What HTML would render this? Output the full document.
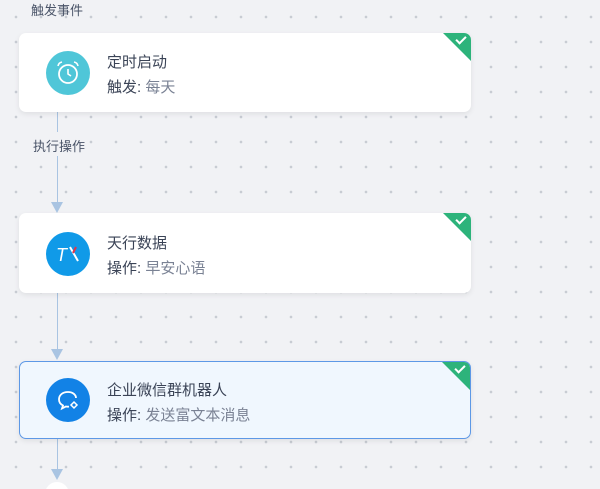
<!DOCTYPE html>
<html><head><meta charset="utf-8"><style>
html{height:489px;overflow:hidden}
body{margin:0;width:600px;height:489px;overflow:hidden;background-color:#f1f2f5;
background-image:radial-gradient(circle,#c8ccd3 1.2px,transparent 1.5px);background-size:25px 25px;background-position:3.5px 4.5px;
font-family:"Liberation Sans","Noto Sans CJK SC",sans-serif;position:relative}
.lbl{position:absolute;font-size:13px;color:#4a5468}
.card{position:absolute;left:19px;width:452px;height:79px;background:#fff;border-radius:7px;box-shadow:0 2px 6px rgba(0,0,0,.08);overflow:hidden;box-sizing:border-box}
.ic{position:absolute;left:27px;top:18px;width:44px;height:44px;border-radius:50%}
.t{position:absolute;left:88px;top:18px;font-size:15px;color:#3a4356}
.s{position:absolute;left:88px;top:43px;font-size:15px;color:#3a4356}
.s span{color:#7a8294}
.tri{position:absolute;right:0;top:0;width:0;height:0;border-top:28px solid #2db37b;border-left:28px solid transparent}
.tri:after{content:"";position:absolute;left:-15px;top:-25px;width:8px;height:4px;border-left:2px solid #fff;border-bottom:2px solid #fff;transform:rotate(-45deg)}
.ln{position:absolute;left:57px;width:1px;background:#a9c4e2}
.ar{position:absolute;left:51px;width:0;height:0;border-left:6.5px solid transparent;border-right:6.5px solid transparent;border-top:11px solid #a9c4e2}
</style></head><body>
<div class="lbl" style="left:31px;top:0px">触发事件</div>
<div class="lbl" style="left:33px;top:136px">执行操作</div>
<div class="ln" style="top:112px;height:20px"></div>
<div class="ln" style="top:156px;height:50px"></div><div class="ar" style="top:202px"></div>
<div class="ln" style="top:293px;height:62px"></div><div class="ar" style="top:349px"></div>
<div class="ln" style="top:439px;height:34px"></div><div class="ar" style="top:469px"></div>
<div style="position:absolute;left:45px;top:482px;width:24px;height:24px;border-radius:50%;background:#fff"></div>

<div class="card" style="top:33px">
<div class="ic" style="background:#4fc6d8">
<svg width="44" height="44" viewBox="0 0 44 44"><circle cx="22" cy="23" r="9" fill="none" stroke="#fff" stroke-width="1.8"/><path d="M22 18v5l3 2" fill="none" stroke="#fff" stroke-width="1.6"/><path d="M12 15a5 5 0 0 1 4-4M32 15a5 5 0 0 0-4-4" fill="none" stroke="#fff" stroke-width="1.6"/></svg></div>
<div class="t">定时启动</div><div class="s">触发: <span>每天</span></div><div class="tri"></div></div>

<div class="card" style="top:213px;height:80px">
<div class="ic" style="background:#109ae8;top:19px">
<svg width="44" height="44" viewBox="0 0 44 44"><text x="10" y="29" font-size="18" font-style="italic" fill="#fff" font-family="Liberation Sans">T</text><path d="M24 15l8 14" stroke="#fff" stroke-width="2"/><path d="M30 15l-3 6" stroke="#e0344a" stroke-width="2"/></svg></div>
<div class="t" style="top:19px">天行数据</div><div class="s" style="top:44px">操作: <span>早安心语</span></div><div class="tri"></div></div>

<div class="card" style="top:361px;height:78px;background:#f0f7fe;border:1px solid #5d98e6">
<div class="ic" style="background:#1282e6;left:26px;top:16px">
<svg width="44" height="44" viewBox="0 0 44 44"><path d="M22 14c-6 0-9 3.5-9 7.5 0 3 2 5 4 6l-1 3 4-2c1 .2 2 .2 3 .1" fill="none" stroke="#fff" stroke-width="1.8"/><path d="M30 20c0-3-3-6-8-6" fill="none" stroke="#fff" stroke-width="1.8"/><path d="M28 24l3 3-3 3-3-3z" fill="none" stroke="#fff" stroke-width="1.5"/></svg></div>
<div class="t" style="left:87px;top:17px">企业微信群机器人</div><div class="s" style="left:87px;top:42px">操作: <span>发送富文本消息</span></div><div class="tri"></div></div>
</body></html>
